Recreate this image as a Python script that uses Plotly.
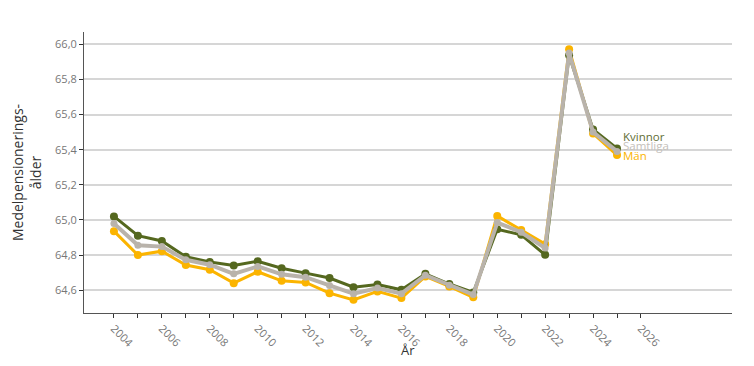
import plotly.graph_objects as go

years = list(range(2004, 2026))
kvinnor = [65.02, 64.91, 64.88, 64.79, 64.76, 64.74, 64.765, 64.725, 64.697, 64.669, 64.617, 64.632,
           64.602, 64.693, 64.635, 64.587, 64.947, 64.915, 64.801, 65.938, 65.515, 65.407]
samtliga = [64.98, 64.856, 64.848, 64.773, 64.745, 64.693, 64.735, 64.69, 64.674, 64.627, 64.58, 64.612,
            64.58, 64.685, 64.628, 64.575, 64.985, 64.93, 64.84, 65.95, 65.50, 65.39]
man = [64.936, 64.80, 64.822, 64.743, 64.716, 64.64, 64.705, 64.653, 64.644, 64.583, 64.545, 64.593,
       64.555, 64.678, 64.621, 64.559, 65.023, 64.943, 64.862, 65.972, 65.492, 65.369]
label_years = list(range(2004, 2027, 2))
minor_years = list(range(2005, 2026, 2))

c_k = "#55681f"
c_s = "#b9b3ab"
c_m = "#fbb400"

fig = go.Figure()
fig.add_trace(go.Scatter(x=years, y=man, mode="lines+markers", name="Män",
                         line=dict(color=c_m, width=3), marker=dict(size=8, color=c_m)))
fig.add_trace(go.Scatter(x=years, y=kvinnor, mode="lines+markers", name="Kvinnor",
                         line=dict(color=c_k, width=3), marker=dict(size=8, color=c_k)))
fig.add_trace(go.Scatter(x=years, y=samtliga, mode="lines+markers", name="Samtliga",
                         line=dict(color=c_s, width=4), marker=dict(size=7, color=c_s)))

for name, vals, col, dy in [("Kvinnor", kvinnor, "#5f6e35", 12), ("Samtliga", samtliga, "#c4c0ba", 6), ("Män", man, c_m, 0)]:
    fig.add_annotation(x=years[-1], y=vals[-1], text=name, showarrow=False, xanchor="left",
                       yanchor="middle", xshift=4, yshift=dy,
                       font=dict(color=col, size=11.5, family="Open Sans, sans-serif"))

fig.add_annotation(x=0.5, y=-0.13, xref="paper", yref="paper", text="År", showarrow=False,
                   xanchor="center", yanchor="middle",
                   font=dict(size=13, color="#333333", family="Open Sans, sans-serif"))

fig.update_layout(
    width=738, height=350,
    margin=dict(l=76, r=14, t=24, b=45),
    plot_bgcolor="white", paper_bgcolor="white",
    showlegend=False,
    separators=", ",
    font=dict(family="Open Sans, sans-serif", color="#666666", size=11),
    xaxis=dict(range=[2002.75, 2029.8], tickmode="array", tickvals=label_years, tickangle=45,
               ticks="outside", ticklen=4, tickcolor="#333333",
               minor=dict(tickmode="array", tickvals=minor_years, ticks="outside", ticklen=4,
                          tickcolor="#333333", showgrid=False),
               showgrid=False, showline=True, linecolor="#555555", linewidth=1, automargin=False,
               tickfont=dict(size=11, color="#777777")),
    yaxis=dict(range=[64.47, 66.07], tick0=64.6, dtick=0.2, tickformat=".1f",
               ticks="outside", ticklen=4, tickcolor="#333333",
               showgrid=True, gridcolor="#d6d6d6", gridwidth=1.5, zeroline=False,
               showline=True, linecolor="#555555", linewidth=1, automargin=False,
               title=dict(text="Medelpensionerings-<br>ålder", font=dict(size=14, color="#333333"), standoff=10),
               tickfont=dict(size=11, color="#777777")),
)

fig.write_html("out.html")
